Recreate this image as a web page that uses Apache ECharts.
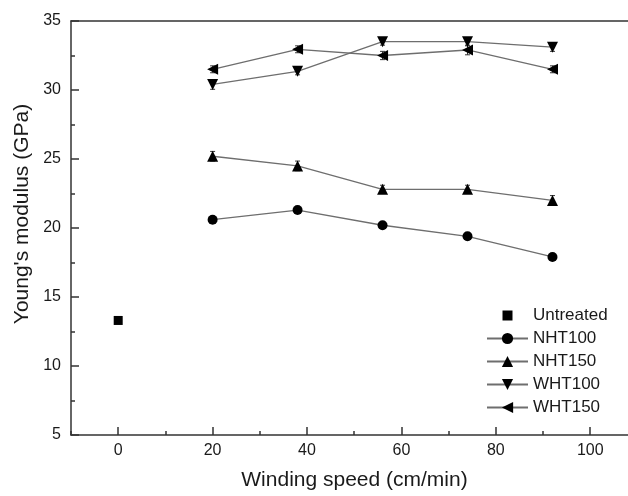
<!DOCTYPE html>
<html>
<head>
<meta charset="utf-8">
<script src="https://cdn.jsdelivr.net/npm/echarts@6/dist/echarts.min.js"></script>
<style>html,body{margin:0;padding:0;background:#fff}#c{width:628px;height:496px}</style>
</head>
<body>
<div id="c"></div>
<script>
var speeds = [20, 38, 56, 74, 92];
var untreatedX = [0];
var untreatedY = [13.3];
var nht100 = [20.6, 21.3, 20.2, 19.4, 17.9];
var nht150 = [25.2, 24.5, 22.8, 22.8, 22.0];
var wht100 = [30.4, 31.35, 33.5, 33.5, 33.1];
var wht150 = [31.5, 32.95, 32.5, 32.9, 31.5];
var nht100Err = [0.15, 0.15, 0.15, 0.15, 0.15];
var nht150Err = [0.35, 0.35, 0.3, 0.3, 0.35];
var wht100Err = [0.35, 0.25, 0.25, 0.3, 0.3];
var wht150Err = [0.25, 0.25, 0.3, 0.35, 0.25];
var xMajorTicks = [0, 20, 40, 60, 80, 100];
var xMinorTicks = [-10, 10, 30, 50, 70, 90];
var seriesNames = ['Untreated', 'NHT100', 'NHT150', 'WHT100', 'WHT150'];

function pairs(xs, ys) { return xs.map(function (x, i) { return [x, ys[i]]; }); }
function errData(ys, es) { return speeds.map(function (x, i) { return [x, ys[i] - es[i], ys[i] + es[i]]; }); }

var FONT = 'Liberation Sans, Arial, sans-serif';
var AX = '#333';
var TXT = '#1a1a1a';
var LINE = '#6e6e6e';
var downTri = 'path://M0,0 L10,0 L5,9 Z';
var leftTri = 'path://M9,0 L9,10 L0,5 Z';
var square = 'path://M0,0 L10,0 L10,10 L0,10 Z';
var legendSquare = 'path://M-2,-2 M0,0 L10,0 L10,10 L0,10 Z M12,12';

function lineSeries(name, ys, symbol, size) {
  return {
    name: name, type: 'line', data: pairs(speeds, ys),
    symbol: symbol, symbolSize: size, showSymbol: true,
    lineStyle: { color: LINE, width: 1.3 },
    itemStyle: { color: '#000', opacity: 1 },
    emphasis: { disabled: true }, animation: false, z: 3
  };
}

function errSeries(ys, es) {
  return {
    type: 'custom', data: errData(ys, es), z: 2, silent: true,
    encode: { x: 0, y: [1, 2] },
    renderItem: function (params, api) {
      var x = api.value(0);
      var lo = api.coord([x, api.value(1)]);
      var hi = api.coord([x, api.value(2)]);
      var w = 2.5;
      var st = { stroke: '#333', lineWidth: 1 };
      return {
        type: 'group',
        children: [
          { type: 'line', shape: { x1: lo[0], y1: lo[1], x2: hi[0], y2: hi[1] }, style: st },
          { type: 'line', shape: { x1: lo[0] - w, y1: lo[1], x2: lo[0] + w, y2: lo[1] }, style: st },
          { type: 'line', shape: { x1: hi[0] - w, y1: hi[1], x2: hi[0] + w, y2: hi[1] }, style: st }
        ]
      };
    }
  };
}

var chart = echarts.init(document.getElementById('c'), null, { renderer: 'canvas' });
chart.setOption({
  backgroundColor: '#fff',
  animation: false,
  textStyle: { fontFamily: FONT },
  grid: { left: 71, right: 0, top: 21, bottom: 59, show: false },
  legend: {
    orient: 'vertical', left: 486, top: 307, padding: 0,
    itemWidth: 41, itemHeight: 14, itemGap: 6,
    textStyle: { fontFamily: FONT, fontSize: 17, color: TXT },
    data: [
      { name: 'Untreated', icon: legendSquare, itemStyle: { color: '#000', opacity: 1 } },
      { name: 'NHT100' }, { name: 'NHT150' }, { name: 'WHT100' }, { name: 'WHT150' }
    ]
  },
  xAxis: [{
    type: 'value', min: -10, max: 108,
    name: 'Winding speed (cm/min)', nameLocation: 'middle', nameGap: 35,
    nameTextStyle: { fontFamily: FONT, fontSize: 21, color: TXT, padding: [0, 0, 0, 10] },
    axisLine: { show: true, onZero: false, lineStyle: { color: AX, width: 1.5 } },
    axisTick: { show: true, inside: true, length: 8, customValues: xMajorTicks, lineStyle: { color: AX, width: 1.5 } },
    axisLabel: { show: true, customValues: xMajorTicks, margin: 8, fontFamily: FONT, fontSize: 16, color: TXT },
    splitLine: { show: false }
  }, {
    type: 'value', min: -10, max: 108, position: 'bottom',
    axisLine: { show: false, onZero: false },
    axisTick: { show: true, inside: true, length: 4, customValues: xMinorTicks, lineStyle: { color: AX, width: 1.5 } },
    axisLabel: { show: false },
    splitLine: { show: false }
  }, {
    type: 'value', min: -10, max: 108, position: 'top',
    axisLine: { show: true, onZero: false, lineStyle: { color: AX, width: 1.5 } },
    axisTick: { show: false }, axisLabel: { show: false }, splitLine: { show: false }
  }],
  yAxis: {
    type: 'value', min: 5, max: 35, interval: 5,
    name: "Young's modulus (GPa)", nameLocation: 'middle', nameGap: 37,
    nameTextStyle: { fontFamily: FONT, fontSize: 21, color: TXT, padding: [0, 0, 0, 28] },
    axisLine: { show: true, onZero: false, lineStyle: { color: AX, width: 1.5 } },
    axisTick: { show: true, inside: true, length: 8, lineStyle: { color: AX, width: 1.5 } },
    minorTick: { show: true, splitNumber: 2, length: 4, lineStyle: { color: AX, width: 1.5 } },
    axisLabel: { margin: 10, fontFamily: FONT, fontSize: 16, color: TXT },
    splitLine: { show: false }
  },
  series: [
    {
      name: 'Untreated', type: 'scatter', data: pairs(untreatedX, untreatedY),
      symbol: square, symbolSize: 9, itemStyle: { color: '#000', opacity: 1 }, z: 3
    },
    errSeries(nht100, nht100Err),
    errSeries(nht150, nht150Err),
    errSeries(wht100, wht100Err),
    errSeries(wht150, wht150Err),
    lineSeries('NHT100', nht100, 'circle', 10),
    lineSeries('NHT150', nht150, 'triangle', 11),
    lineSeries('WHT100', wht100, downTri, 11),
    lineSeries('WHT150', wht150, leftTri, 11)
  ]
});
</script>
</body>
</html>
